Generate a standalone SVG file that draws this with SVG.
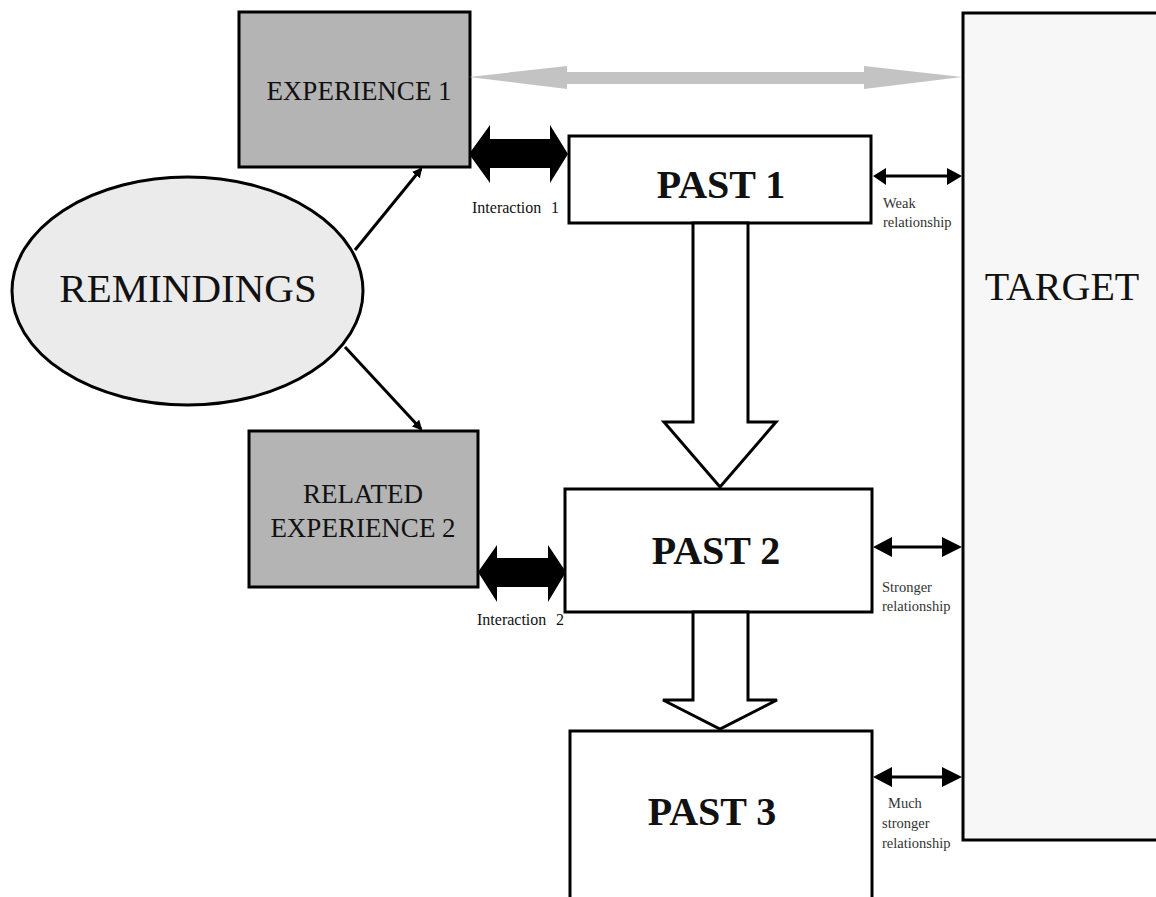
<svg xmlns="http://www.w3.org/2000/svg" width="1156" height="897" viewBox="0 0 1156 897">
<defs>
<style>
.box{stroke:#000;stroke-width:3}
.gray{fill:#b4b4b4}
.white{fill:#fff}
.t{font-family:"Liberation Serif","Times New Roman",serif;fill:#111}
.big{font-size:27px;text-anchor:middle}
.past{font-size:40px;font-weight:bold;text-anchor:middle}
.small{font-size:16px}
.rel{font-size:14.5px;fill:#333}
.ln{stroke:#000;stroke-width:3;fill:none}
.blk{fill:#000}
.block{fill:#fff;stroke:#000;stroke-width:3;stroke-linejoin:miter}
</style>
<marker id="ah" markerWidth="10" markerHeight="10" refX="8" refY="5" orient="auto" markerUnits="userSpaceOnUse" viewBox="0 0 10 10">
<path d="M0,0 L10,5 L0,10 z" fill="#000"/>
</marker>
</defs>
<rect width="1156" height="897" fill="#fff"/>

<g id="target">
<rect class="box" x="963" y="13" width="200" height="827" fill="#f7f7f7"/>
<text class="t" x="1062" y="300" font-size="40" text-anchor="middle">TARGET</text>
</g>

<g id="experience1">
<rect class="box gray" x="239" y="12" width="231" height="155"/>
<text class="t big" x="359" y="100">EXPERIENCE 1</text>
</g>

<g id="remindings">
<ellipse cx="187.5" cy="291" rx="175.5" ry="114" fill="#ebebeb" stroke="#000" stroke-width="3"/>
<text class="t" x="188" y="302" font-size="41" text-anchor="middle">REMINDINGS</text>
</g>

<g id="related2">
<rect class="box gray" x="249" y="431" width="229" height="156"/>
<text class="t big" x="363" y="503">RELATED</text>
<text class="t big" x="363" y="537">EXPERIENCE 2</text>
</g>

<g id="past1">
<rect class="box white" x="569" y="136" width="302" height="87"/>
<text class="t past" x="721" y="198">PAST 1</text>
</g>

<g id="past2">
<rect class="box white" x="565" y="489" width="307" height="123"/>
<text class="t past" x="716" y="564">PAST 2</text>
</g>

<g id="past3">
<rect class="box white" x="570" y="731" width="302" height="200"/>
<text class="t past" x="712" y="825">PAST 3</text>
</g>

<g id="connectors">
<polygon points="469,77 567,66 567,72 864,72 864,66 962,77 864,89 864,84 567,84 567,89" fill="#c3c3c3"/>

<polygon class="blk" points="469,154 490,125 490,139 550,139 550,125 568,154 550,183 550,168 490,168 490,183"/>
<text class="t small" x="472" y="213">Interaction <tspan x="551">1</tspan></text>

<polygon class="blk" points="478,572 497,545 497,558 548,558 548,545 566,572 548,602 548,587 497,587 497,602"/>
<text class="t small" x="477" y="625">Interaction <tspan x="556">2</tspan></text>

<line class="ln" x1="355" y1="250" x2="421" y2="169" marker-end="url(#ah)"/>
<line class="ln" x1="345" y1="347" x2="421" y2="429" marker-end="url(#ah)"/>

<polygon class="block" points="693,223 748,223 748,422 776,422 720,487 664,422 693,422"/>
<polygon class="block" points="693,612 748,612 748,700 777,700 720,729 663,700 693,700"/>

<line class="ln" x1="880" y1="176" x2="955" y2="176"/>
<polygon class="blk" points="873,176 886,168 886,185"/>
<polygon class="blk" points="962,176 947,168 947,185"/>
<text class="t rel" x="883" y="208">Weak</text>
<text class="t rel" x="883" y="227">relationship</text>

<line class="ln" x1="880" y1="547" x2="955" y2="547"/>
<polygon class="blk" points="873,547 892,537 892,557"/>
<polygon class="blk" points="962,547 942,537 942,557"/>
<text class="t rel" x="882" y="592">Stronger</text>
<text class="t rel" x="882" y="611">relationship</text>

<line class="ln" x1="880" y1="777" x2="955" y2="777"/>
<polygon class="blk" points="873,777 892,767 892,787"/>
<polygon class="blk" points="962,777 942,767 942,787"/>
<text class="t rel" x="888" y="808">Much</text>
<text class="t rel" x="882" y="828">stronger</text>
<text class="t rel" x="882" y="848">relationship</text>
</g>
</svg>
